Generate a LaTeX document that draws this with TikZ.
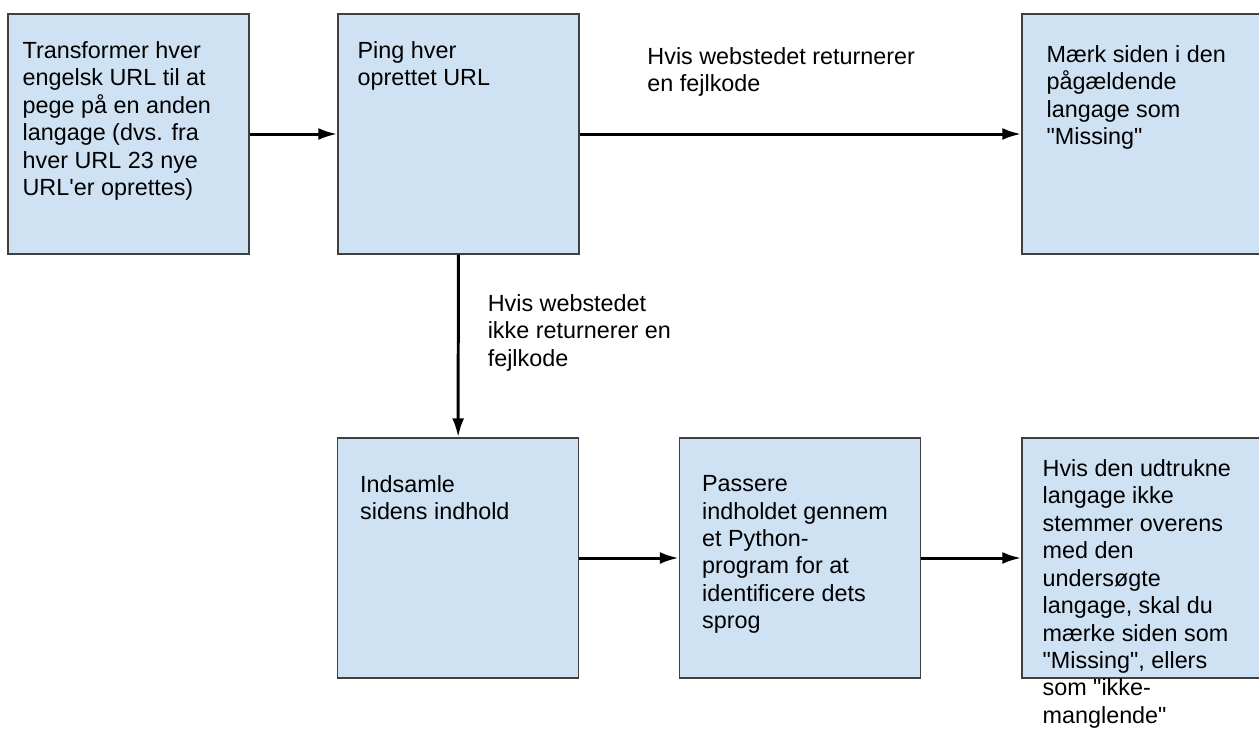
\documentclass[tikz,border=0pt]{standalone}
\usepackage{fontspec}
\setmainfont{Liberation Sans}
\usetikzlibrary{arrows.meta}

\begin{document}
\begin{tikzpicture}[x=0.02cm,y=-0.02cm]
    % `box' is used for the blue process boxes.
    % `txt' is used for the text set inside the boxes.
    % `lbl' is used for the conditions on the arrows.
    \tikzstyle{box} = [draw=black!75,fill={rgb,255:red,207;green,226;blue,243},line width=0.85pt,minimum width=4.82cm,minimum height=4.8cm,inner sep=0pt]
    \tikzstyle{txt} = [anchor=north west,align=left,inner sep=0pt,font=\fontsize{13.3}{15.6}\selectfont]
    \tikzstyle{lbl} = [align=left,inner sep=0pt,font=\fontsize{13.3}{15.6}\selectfont]
    \tikzstyle{flow} = [line width=1.7pt,-{Latex[length=0.38cm,width=0.24cm]}]
    %
    \useasboundingbox (0,0) rectangle (1259,728);
    \fill[white] (0,0) rectangle (1259,728);
    \begin{scope}
      \clip (0,0) rectangle (1259,728);
      \node[box] (transform) at (128.5,134) {};
      \node[box] (ping) at (458.5,134) {};
      \node[box] (missing) at (1142.5,134) {};
      \node[box] (collect) at (458,558) {};
      \node[box] (python) at (800,558) {};
      \node[box] (compare) at (1142.5,558) {};
    % Box texts.
    \node[txt] (transformtext) at ([shift={(15,28)}]transform.north west)
      {Transformer hver\\engelsk URL til at\\pege på en anden\\langage (dvs. fra\\hver URL 23 nye\\URL\textquotesingle er oprettes)};
    \node[txt] (pingtext) at ([shift={(20,28)}]ping.north west)
      {Ping hver\\oprettet URL};
    \node[txt] (missingtext) at ([shift={(25,32)}]missing.north west)
      {Mærk siden i den\\pågældende\\langage som\\\textquotedbl Missing\textquotedbl};
    \node[txt] (collecttext) at ([shift={(23,38)}]collect.north west)
      {Indsamle\\sidens indhold};
    \node[txt] (pythontext) at ([shift={(23,38)}]python.north west)
      {Passere\\indholdet gennem\\et Python-\\program for at\\identificere dets\\sprog};
    \node[txt] (comparetext) at ([shift={(21,22)}]compare.north west)
      {Hvis den udtrukne\\langage ikke\\stemmer overens\\med den\\undersøgte\\langage, skal du\\mærke siden som\\\textquotedbl Missing\textquotedbl, ellers\\som \textquotedbl ikke-\\manglende\textquotedbl};
    \end{scope}
    % Draw arrows.
    \draw[flow] (transform) -- (ping);
    \draw[flow] (ping) -- node[lbl,pos=0.15,anchor=south west,yshift=0.72cm]
      {Hvis webstedet returnerer\\en fejlkode} (missing);
    \draw[flow] (ping) -- node[lbl,pos=0.21,anchor=north west,xshift=0.56cm]
      {Hvis webstedet\\ikke returnerer en\\fejlkode} (collect);
    \draw[flow] (collect) -- (python);
    \draw[flow] (python) -- (compare);
\end{tikzpicture}
\end{document}
